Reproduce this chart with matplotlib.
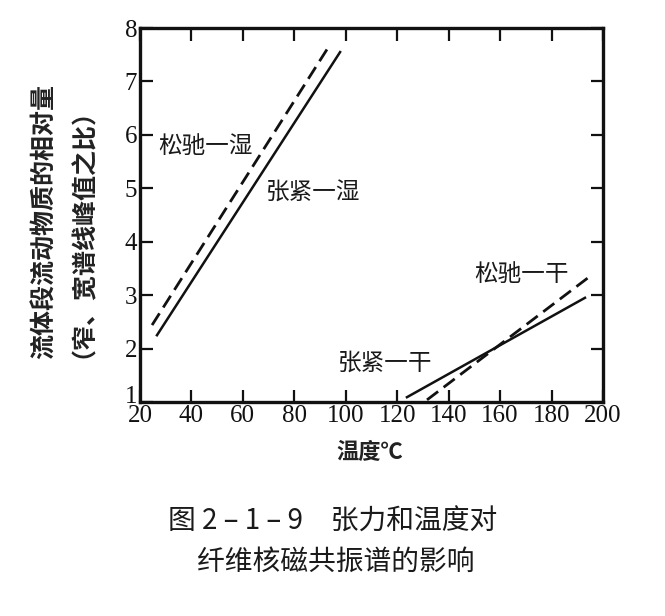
import matplotlib
matplotlib.use("Agg")
import matplotlib.pyplot as plt
import matplotlib.transforms as mtransforms

plt.rcParams['font.family'] = ['Noto Sans CJK SC', 'DejaVu Sans']

# data
wet_relaxed_x = [24.7, 93.1]
wet_relaxed_y = [2.44, 7.63]
wet_tight_x = [26.6, 97.8]
wet_tight_y = [2.25, 7.55]
dry_relaxed_x = [131.6, 195.7]
dry_relaxed_y = [1.04, 3.38]
dry_tight_x = [123.8, 193.0]
dry_tight_y = [1.09, 2.95]

x_ticks = [20, 40, 60, 80, 100, 120, 140, 160, 180, 200]
y_ticks = [1, 2, 3, 4, 5, 6, 7, 8]

labels = ["松驰一湿", "张紧一湿", "松驰一干", "张紧一干"]
label_x = [45.5, 87.3, 168.3, 115.3]
label_y = [5.78, 4.91, 3.38, 1.73]

fig = plt.figure(figsize=(6.65, 6.16), dpi=100)
ax = fig.add_axes([0.2105, 0.3474, 0.6962, 0.6071])

ax.plot(wet_relaxed_x, wet_relaxed_y, color='#111111', lw=2.0, ls=(0, (5, 2.5)))
ax.plot(wet_tight_x, wet_tight_y, color='#111111', lw=1.8)
ax.plot(dry_relaxed_x, dry_relaxed_y, color='#111111', lw=2.0, ls=(0, (5, 2.5)))
ax.plot(dry_tight_x, dry_tight_y, color='#111111', lw=1.8)

ax.set_xlim(20, 200)
ax.set_ylim(1, 8)
ax.set_xticks(x_ticks)
ax.set_yticks(y_ticks)
ax.tick_params(direction='in', length=9, width=1.6, top=True, right=True,
               labelsize=18, pad=2, colors='#111111')
for t in ax.get_xticklabels() + ax.get_yticklabels():
    t.set_fontfamily('Liberation Serif')
# the "1" label sits slightly above the corner in the reference
ylabels = ax.get_yticklabels()
ylabels[0].set_transform(ylabels[0].get_transform() +
                         mtransforms.ScaledTranslation(0, 8 / 100, fig.dpi_scale_trans))
for s in ax.spines.values():
    s.set_linewidth(2.4)
    s.set_color('#111111')

for txt, lx, ly in zip(labels, label_x, label_y):
    ax.text(lx, ly, txt, ha='center', va='center', fontsize=17, color='#1a1a1a',
            family=['Noto Sans CJK SC', 'DejaVu Sans'], fontweight='medium')

fig.text(45 / 665, 1 - 221 / 616, "流体段流动物质的相对量", rotation=90, ha='center', va='center',
         fontsize=18, color='#222222', fontweight='bold')
fig.text(71 / 665, 1 - 220 / 616, "（窄、宽谱线峰值之比）", rotation=90, ha='center', va='center',
         fontsize=18, color='#222222', fontweight='bold')

fig.text(370 / 665, 1 - 453 / 616, "温度℃", ha='center', va='center', fontsize=16,
         color='#222222', fontweight='bold')

fig.text(333 / 665, 1 - 522 / 616, "图 2 – 1 – 9　张力和温度对", ha='center', va='center',
         fontsize=20, color='#1a1a1a')
fig.text(336 / 665, 1 - 562 / 616, "纤维核磁共振谱的影响", ha='center', va='center',
         fontsize=20, color='#1a1a1a')

fig.savefig("out.png", dpi=100)
